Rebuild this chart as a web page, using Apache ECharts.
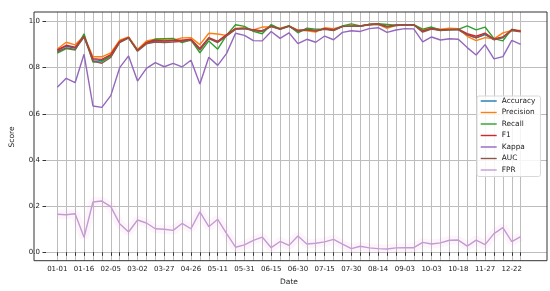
<!DOCTYPE html>
<html><head><meta charset="utf-8">
<script src="https://cdn.jsdelivr.net/npm/echarts@6/dist/echarts.min.js"></script>
<style>html,body{margin:0;padding:0;background:#fff}#c{width:550px;height:291px}</style>
</head><body><div id="c"></div>
<script>
const dates = ['01-01','01-06','01-11','01-16','01-21','01-26','02-05','02-10','02-20','03-02','03-12','03-17','03-27','04-06','04-16','04-26','05-01','05-06','05-11','05-16','05-26','05-31','06-05','06-10','06-15','06-20','06-25','06-30','07-05','07-10','07-15','07-20','07-25','07-30','08-04','08-09','08-14','08-19','08-29','09-03','09-13','09-23','10-03','10-08','10-13','10-18','10-28','11-12','11-27','12-02','12-12','12-22','12-27'];
const accuracy = [.874,.893,.885,.935,.835,.831,.852,.912,.930,.874,.907,.916,.915,.916,.917,.921,.880,.928,.912,.940,.968,.970,.962,.958,.980,.967,.980,.960,.964,.960,.968,.963,.979,.980,.980,.987,.989,.978,.984,.986,.986,.957,.969,.962,.965,.966,.943,.929,.943,.922,.930,.963,.957];
const precision = [.881,.910,.899,.937,.847,.847,.864,.919,.933,.879,.916,.923,.921,.919,.929,.930,.900,.949,.946,.940,.970,.973,.964,.976,.976,.971,.981,.963,.960,.954,.973,.969,.979,.982,.981,.987,.988,.970,.983,.986,.986,.963,.970,.967,.971,.969,.936,.917,.930,.925,.951,.961,.961];
const recall = [.863,.883,.876,.947,.824,.826,.850,.911,.929,.876,.907,.924,.926,.927,.909,.921,.864,.916,.880,.941,.986,.979,.957,.947,.987,.968,.982,.951,.971,.967,.967,.964,.981,.990,.981,.987,.990,.987,.984,.986,.986,.967,.976,.964,.964,.966,.981,.964,.976,.926,.916,.967,.956];
const f1 = [.877,.897,.889,.936,.839,.836,.857,.914,.931,.874,.909,.919,.916,.919,.919,.923,.883,.930,.914,.943,.969,.970,.964,.959,.980,.968,.980,.961,.964,.959,.969,.964,.979,.979,.981,.987,.989,.979,.984,.986,.986,.959,.970,.963,.966,.967,.947,.936,.950,.924,.933,.964,.959];
const kappa = [.715,.754,.735,.858,.634,.628,.679,.800,.851,.742,.797,.822,.804,.819,.803,.832,.729,.845,.810,.862,.949,.940,.917,.916,.957,.927,.951,.904,.923,.910,.937,.921,.953,.960,.957,.969,.973,.953,.963,.969,.968,.912,.933,.920,.925,.923,.887,.855,.900,.838,.848,.918,.901];
const auc = [.869,.886,.879,.933,.829,.819,.844,.909,.929,.871,.903,.911,.909,.911,.914,.919,.876,.926,.909,.937,.966,.969,.961,.957,.979,.966,.979,.958,.964,.961,.966,.961,.978,.980,.979,.986,.988,.976,.983,.985,.985,.954,.967,.961,.964,.964,.942,.929,.946,.921,.930,.961,.955];
const fpr = [.165,.163,.167,.065,.218,.222,.198,.124,.088,.140,.127,.102,.100,.095,.125,.102,.175,.111,.143,.081,.022,.032,.052,.066,.020,.047,.030,.071,.036,.039,.045,.056,.035,.016,.026,.019,.016,.014,.019,.020,.020,.043,.036,.041,.052,.053,.027,.053,.033,.081,.107,.046,.068];
const yTicks = [0, 0.2, 0.4, 0.6, 0.8, 1.0];

const names = ['Accuracy','Precision','Recall','F1','Kappa','AUC','FPR'];
const colors = ['#1f77b4','#ff7f0e','#2ca02c','#d62728','#9467bd','#8c564b','#c39bd3'];
const values = [accuracy, precision, recall, f1, kappa, auc, fpr];
const FONT = 'DejaVu Sans';
const chart = echarts.init(document.getElementById('c'), null, {renderer:'canvas'});
const series = [{
  name:'FPR band', type:'line', xAxisIndex:2, yAxisIndex:2, data:fpr, symbol:'none', silent:true,
  lineStyle:{width:9, color:'rgba(227,119,194,0.07)'}, z:1
}];
names.forEach((n,i)=>series.push({
  name:n, type:'line', xAxisIndex:2, yAxisIndex:2, data:values[i], symbol:'none', showSymbol:false,
  color:colors[i], lineStyle:{width:1.4, color:colors[i]}, z:2+i
}));
chart.setOption({
  animation:false,
  grid:[
    {left:34, right:3, top:12, bottom:30.3, show:true, borderColor:'#333', borderWidth:1, backgroundColor:'transparent', z:5},
    {left:34, right:3, top:21.5, bottom:38.7},
    {left:57.3, right:29.3, top:12, bottom:30.3}
  ],
  xAxis:[
    {gridIndex:0, type:'value', show:false},
    {gridIndex:1, type:'value', show:false},
    {gridIndex:2, type:'category', data:dates, boundaryGap:false,
     axisLine:{show:false},
     axisTick:{show:true, interval:0, length:3.5, lineStyle:{color:'#333', width:1}},
     axisLabel:{interval:2, fontSize:7, fontFamily:FONT, color:'#222', margin:5},
     splitLine:{show:true, interval:0, lineStyle:{color:'#bdbdbd', width:1}},
     name:'Date', nameLocation:'middle', nameGap:14.5, nameTextStyle:{fontSize:7.5, fontFamily:FONT, color:'#222'}}
  ],
  yAxis:[
    {gridIndex:0, type:'value', show:false},
    {gridIndex:1, type:'value', min:yTicks[0], max:yTicks[yTicks.length-1], interval:0.2,
     axisLine:{show:false},
     axisTick:{show:true, length:3.5, lineStyle:{color:'#333'}},
     axisLabel:{fontSize:7, fontFamily:FONT, color:'#222', margin:6, formatter:v=>v.toFixed(1)},
     splitLine:{show:true, lineStyle:{color:'#bdbdbd', width:1}},
     name:'Score', nameLocation:'middle', nameGap:30, nameRotate:90, nameTextStyle:{fontSize:7.5, fontFamily:FONT, color:'#222'}},
    {gridIndex:2, type:'value', min:-0.0364, max:1.0412, show:false}
  ],
  legend:{
    data:names, orient:'vertical', left:477, top:96, width:70,
    padding:[1.5,5,3,3], itemWidth:16, itemHeight:7, itemGap:4.5,
    itemStyle:{opacity:0},
    lineStyle:{width:1.4},
    backgroundColor:'rgba(255,255,255,0.85)', borderColor:'#d8d8d8', borderWidth:1, borderRadius:2,
    textStyle:{fontSize:7.4, fontFamily:FONT, color:'#222'}
  },
  series:series
});
</script></body></html>
